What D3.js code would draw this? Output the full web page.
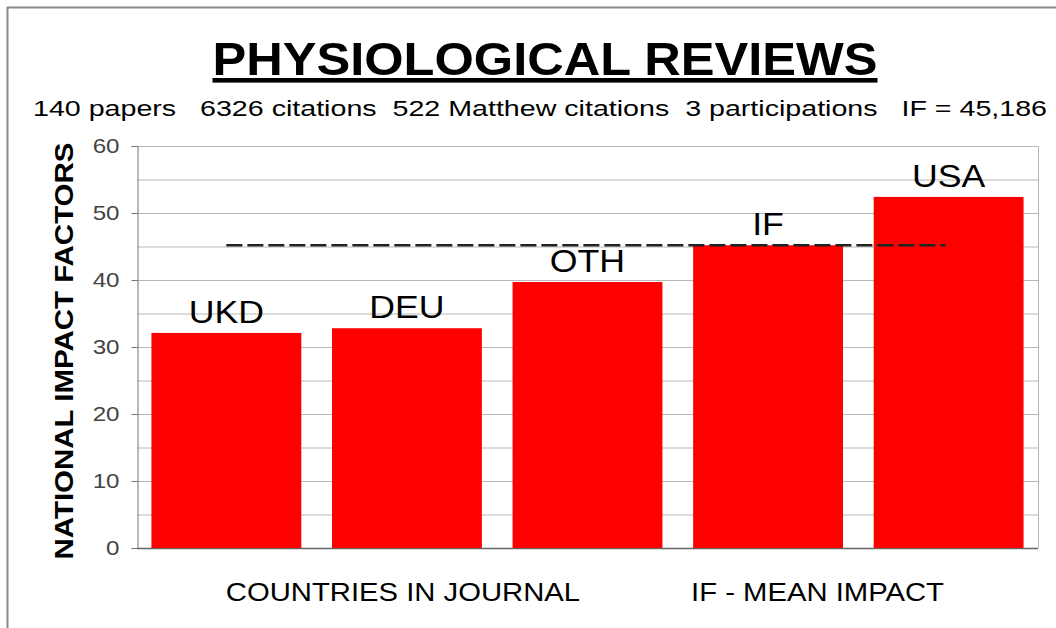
<!DOCTYPE html>
<html>
<head>
<meta charset="utf-8">
<script src="https://cdn.jsdelivr.net/npm/d3@7"></script>
<style>
  body { margin: 0; background: #fff; }
  svg { font-family: "Liberation Sans", Arial, sans-serif; }
</style>
</head>
<body>
<div id="chart"></div>
<script>
// Chart data
const countries = ["UKD", "DEU", "OTH", "IF", "USA"];
const impactValues = [32.1, 32.8, 39.7, 45.186, 52.4];
const meanImpact = 45.186;
const yTicks = [0, 10, 20, 30, 40, 50, 60];
const gridValues = [5, 10, 15, 20, 25, 30, 35, 40, 45, 50, 55, 60];
const groupLabels = ["COUNTRIES IN JOURNAL", "IF - MEAN IMPACT"];

const W = 1056, H = 628;
const margin = { top: 146, right: 18, bottom: 80, left: 137 };

// the original text is a bit wider than Liberation Sans
function widen(sel, k) {
  sel.each(function() {
    const len = this.getComputedTextLength();
    d3.select(this)
      .attr("textLength", len * k)
      .attr("lengthAdjust", "spacingAndGlyphs");
  });
}

const svg = d3.select("#chart").append("svg")
  .attr("width", W)
  .attr("height", H);

// outer frame
svg.append("rect")
  .attr("x", 7.5).attr("y", 7.5)
  .attr("width", W).attr("height", H)
  .attr("fill", "none")
  .attr("stroke", "#8a8a8a")
  .attr("stroke-width", 2);

const x = d3.scaleBand()
  .domain(countries)
  .range([margin.left, W - margin.right])
  .paddingInner(0.17)
  .paddingOuter(0.08);

const y = d3.scaleLinear()
  .domain([0, 60])
  .range([H - margin.bottom, margin.top]);

// grid lines
svg.append("g")
  .selectAll("line")
  .data(gridValues)
  .join("line")
  .attr("x1", margin.left)
  .attr("x2", W - margin.right)
  .attr("y1", d => y(d) + 0.5)
  .attr("y2", d => y(d) + 0.5)
  .attr("stroke", "#b8b8b8")
  .attr("stroke-width", 1);

// right border of plot
svg.append("line")
  .attr("x1", W - margin.right + 0.5).attr("x2", W - margin.right + 0.5)
  .attr("y1", y(60)).attr("y2", y(0))
  .attr("stroke", "#b8b8b8");

// y axis
const yAxis = svg.append("g")
  .attr("transform", `translate(${margin.left + 0.5},0)`)
  .call(d3.axisLeft(y).tickValues(yTicks).tickSize(6).tickPadding(12));
yAxis.select(".domain").attr("stroke", "#777");
yAxis.selectAll(".tick line").attr("stroke", "#777");
yAxis.selectAll("text")
  .attr("font-size", 21)
  .attr("fill", "#444")
  .attr("font-family", "Liberation Sans, Arial, sans-serif")
  .call(widen, 1.15);

// bottom axis line
svg.append("line")
  .attr("x1", margin.left).attr("x2", W - margin.right)
  .attr("y1", y(0) + 0.5).attr("y2", y(0) + 0.5)
  .attr("stroke", "#666")
  .attr("stroke-width", 1.5);

// bars
svg.append("g")
  .selectAll("rect")
  .data(impactValues)
  .join("rect")
  .attr("x", (d, i) => x(countries[i]))
  .attr("y", d => y(d))
  .attr("width", x.bandwidth())
  .attr("height", d => y(0) - y(d))
  .attr("fill", "#ff0000");

// mean impact dashed line
svg.append("line")
  .attr("x1", x("UKD") + x.bandwidth() / 2)
  .attr("x2", x("USA") + x.bandwidth() * 0.48)
  .attr("y1", y(meanImpact))
  .attr("y2", y(meanImpact))
  .attr("stroke", "#222")
  .attr("stroke-width", 2.5)
  .attr("stroke-dasharray", "16,5");

// bar labels
svg.append("g")
  .selectAll("text")
  .data(impactValues)
  .join("text")
  .attr("x", (d, i) => x(countries[i]) + x.bandwidth() / 2)
  .attr("y", d => y(d) - 10)
  .attr("text-anchor", "middle")
  .attr("font-size", 31)
  .attr("fill", "#000")
  .text((d, i) => countries[i])
  .call(widen, 1.15);

// title
svg.append("text")
  .attr("x", 545)
  .attr("y", 75)
  .attr("text-anchor", "middle")
  .attr("font-size", 46)
  .attr("font-weight", "bold")
  .attr("text-decoration", "underline")
  .attr("textLength", 665)
  .attr("lengthAdjust", "spacingAndGlyphs")
  .text("PHYSIOLOGICAL REVIEWS");

// subtitle
svg.append("text")
  .attr("x", 33)
  .attr("y", 116)
  .attr("font-size", 22)
  .attr("xml:space", "preserve")
  .style("white-space", "pre")
  .attr("textLength", 1014)
  .attr("lengthAdjust", "spacingAndGlyphs")
  .text("140 papers   6326 citations  522 Matthew citations  3 participations   IF = 45,186");

// y axis title
svg.append("text")
  .attr("transform", `translate(73,${(y(0) + y(60)) / 2 + 4}) rotate(-90)`)
  .attr("text-anchor", "middle")
  .attr("font-size", 26)
  .attr("font-weight", "bold")
  .attr("textLength", 417)
  .attr("lengthAdjust", "spacingAndGlyphs")
  .text("NATIONAL IMPACT FACTORS");

// group labels under the bars
const groupCenters = [
  x("DEU") + x.bandwidth() / 2 - 4,
  x("IF") + x.bandwidth() * 0.83
];
svg.append("g")
  .selectAll("text")
  .data(groupLabels)
  .join("text")
  .attr("x", (d, i) => groupCenters[i])
  .attr("y", 601)
  .attr("text-anchor", "middle")
  .attr("font-size", 25)
  .text(d => d)
  .call(widen, 1.17);
</script>
</body>
</html>
